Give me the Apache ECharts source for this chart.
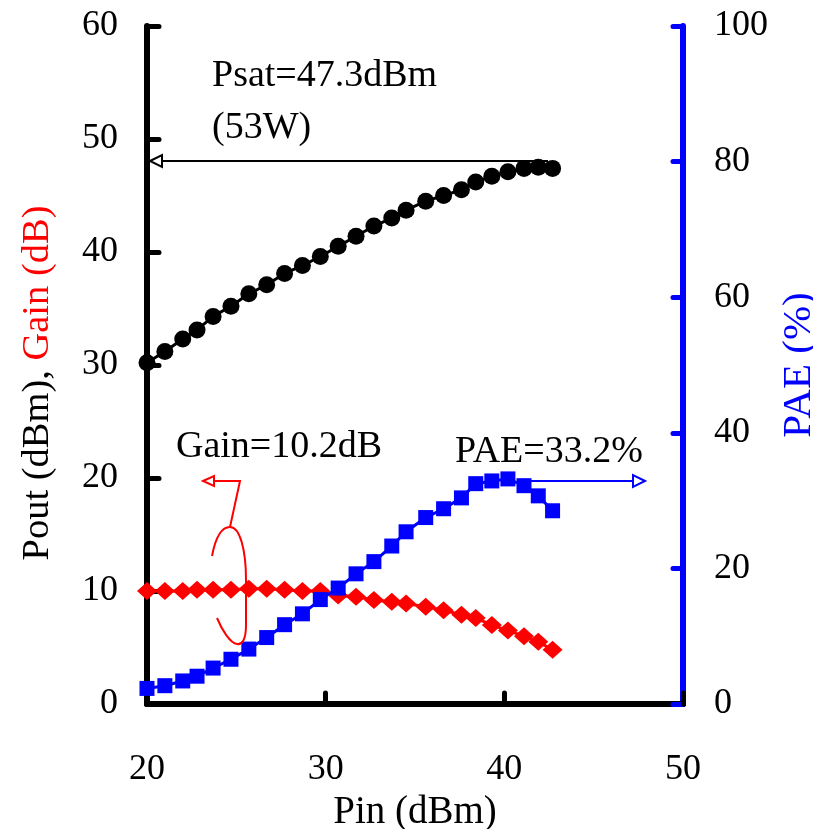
<!DOCTYPE html>
<html>
<head>
<meta charset="utf-8">
<script src="https://cdn.jsdelivr.net/npm/echarts@6/dist/echarts.min.js"></script>
<style>
html,body{margin:0;padding:0;background:#fff;overflow:hidden;}
#chart{width:813px;height:829px;}
</style>
</head>
<body>
<div id="chart"></div>
<script>
// ---- data ----
const pin = [20, 21, 22, 22.8, 23.7, 24.7, 25.7, 26.7, 27.7, 28.7, 29.7, 30.7, 31.7, 32.7, 33.7, 34.5, 35.6, 36.6, 37.6, 38.4, 39.3, 40.2, 41.1, 41.9, 42.7];
const pout = [30.2, 31.2, 32.3, 33.1, 34.3, 35.2, 36.3, 37.1, 38.1, 38.8, 39.6, 40.5, 41.4, 42.3, 43.0, 43.7, 44.5, 45.0, 45.5, 46.2, 46.7, 47.1, 47.4, 47.5, 47.4];
const gain = [10.0, 10.0, 10.0, 10.1, 10.1, 10.1, 10.2, 10.2, 10.1, 10.0, 10.0, 9.6, 9.5, 9.2, 9.05, 8.9, 8.6, 8.3, 7.9, 7.6, 7.0, 6.5, 6.0, 5.5, 4.8];
const pae = [2.3, 2.7, 3.4, 4.1, 5.3, 6.6, 8.1, 9.8, 11.7, 13.3, 15.4, 17.1, 19.2, 21.0, 23.3, 25.4, 27.5, 28.8, 30.4, 32.5, 32.9, 33.2, 32.2, 30.7, 28.5];
const xTicks = [20, 30, 40, 50];
const leftTicks = [0, 10, 20, 30, 40, 50, 60];
const rightTicks = [0, 20, 40, 60, 80, 100];

const FONT = '"Liberation Serif","Times New Roman",serif';
const FS = 36;   // tick labels
const FA = 38;   // annotations
const zip = (xs, ys) => xs.map((x, i) => [x, ys[i]]);

const chart = echarts.init(document.getElementById('chart'), null, {renderer: 'canvas', width: 813, height: 829});
const bez = (x1, y1, cpx1, cpy1, cpx2, cpy2, x2, y2) => ({
  type: 'bezierCurve', z: 10,
  shape: {x1, y1, cpx1, cpy1, cpx2, cpy2, x2, y2},
  style: {stroke: '#ff0000', lineWidth: 2, fill: null}
});
const txt = (s, x, y) => ({type: 'text', x: x, y: y, z: 10,
  style: {text: s, fontFamily: FONT, fontSize: FA, fill: '#000', textVerticalAlign: 'middle', verticalAlign: 'middle'}});

const option = {
  animation: false,
  backgroundColor: '#fff',
  grid: {left: 147, right: 130, top: 26, bottom: 125, containLabel: false, outerBoundsMode: 'none'},
  xAxis: [{
    type: 'value', min: xTicks[0], max: xTicks[xTicks.length - 1], interval: 10,
    name: 'Pin (dBm)', nameLocation: 'middle', nameGap: 88,
    nameTextStyle: {fontFamily: FONT, fontSize: 39, color: '#000'},
    axisLine: {lineStyle: {color: '#000', width: 6}},
    axisTick: {inside: true, length: 11, lineStyle: {color: '#000', width: 5, cap: 'round'}},
    axisLabel: {margin: 48, fontFamily: FONT, fontSize: FS, color: '#000'},
    splitLine: {show: false}
  }, {
    type: 'value', position: 'top', min: xTicks[0], max: xTicks[xTicks.length - 1], interval: 10,
    axisLine: {lineStyle: {color: '#000', width: 6}},
    axisTick: {show: false}, axisLabel: {show: false}, splitLine: {show: false}
  }],
  yAxis: [{
    type: 'value', min: 0, max: 60, interval: 10, position: 'left',
    name: '{k|Pout (dBm), }{r|Gain (dB)}', nameLocation: 'middle', nameGap: 90, nameRotate: 90,
    nameTextStyle: {fontFamily: FONT, fontSize: 38.5, padding: [0, 36, 0, 0], rich: {
      k: {color: '#000', fontFamily: FONT, fontSize: 38.5},
      r: {color: '#ff0000', fontFamily: FONT, fontSize: 38.5}
    }},
    axisLine: {lineStyle: {color: '#000', width: 6}},
    axisTick: {inside: true, length: 12, lineStyle: {color: '#000', width: 5, cap: 'round'}},
    axisLabel: {margin: 29, fontFamily: FONT, fontSize: FS, color: '#000'},
    splitLine: {show: false}
  }, {
    type: 'value', min: 0, max: 100, interval: 20, position: 'right',
    name: 'PAE (%)', nameLocation: 'middle', nameGap: 74, nameRotate: 90,
    nameTextStyle: {fontFamily: FONT, fontSize: 41, color: '#0000ff'},
    axisLine: {lineStyle: {color: '#0000ff', width: 6}},
    axisTick: {inside: true, length: 10, lineStyle: {color: '#0000ff', width: 5, cap: 'round'}},
    axisLabel: {margin: 31, fontFamily: FONT, fontSize: FS, color: '#000'},
    splitLine: {show: false}
  }],
  series: [{
    name: 'Pout', type: 'line', xAxisIndex: 0, yAxisIndex: 0, data: zip(pin, pout),
    symbol: 'circle', symbolSize: 17, lineStyle: {color: '#000', width: 3},
    itemStyle: {color: '#000'}, z: 3
  }, {
    name: 'Gain', type: 'line', xAxisIndex: 0, yAxisIndex: 0, data: zip(pin, gain),
    symbol: 'diamond', symbolSize: [20, 18], lineStyle: {color: '#ff0000', width: 3},
    itemStyle: {color: '#ff0000'}, z: 4
  }, {
    name: 'PAE', type: 'line', xAxisIndex: 0, yAxisIndex: 1, data: zip(pin, pae),
    symbol: 'rect', symbolSize: 15, lineStyle: {color: '#0000ff', width: 3},
    itemStyle: {color: '#0000ff'}, z: 5
  }],
  graphic: [
    txt('Psat=47.3dBm', 212, 76),
    txt('(53W)', 212, 128),
    txt('Gain=10.2dB', 176, 447),
    txt('PAE=33.2%', 455, 452),
    // Psat arrow
    {type: 'line', z: 10, shape: {x1: 160, y1: 161, x2: 548, y2: 161}, style: {stroke: '#000', lineWidth: 2}},
    {type: 'polygon', z: 10, shape: {points: [[150, 161], [162, 155], [162, 167]]}, style: {fill: '#fff', stroke: '#000', lineWidth: 2}},
    // PAE arrow
    {type: 'line', z: 10, shape: {x1: 518, y1: 481, x2: 633, y2: 481}, style: {stroke: '#0000ff', lineWidth: 2}},
    {type: 'polygon', z: 10, shape: {points: [[645, 481], [633, 475], [633, 487]]}, style: {fill: '#fff', stroke: '#0000ff', lineWidth: 2}},
    // Gain bracket
    {type: 'polyline', z: 10, shape: {points: [[230, 527], [240, 481], [213, 481]]}, style: {stroke: '#ff0000', lineWidth: 2, fill: null}},
    {type: 'polygon', z: 10, shape: {points: [[203, 481], [214, 476], [214, 486]]}, style: {fill: '#fff', stroke: '#ff0000', lineWidth: 2}},
    bez(212, 556, 216, 535, 222, 527, 230, 527),
    bez(230, 527, 240, 527, 246, 550, 246, 580),
    {type: 'line', z: 10, shape: {x1: 246, y1: 580, x2: 246, y2: 625}, style: {stroke: '#ff0000', lineWidth: 2}},
    bez(246, 625, 246, 640, 242, 645, 237, 644),
    bez(237, 644, 230, 643, 222, 630, 217, 618)
  ]
};
chart.setOption(option);
</script>
</body>
</html>
